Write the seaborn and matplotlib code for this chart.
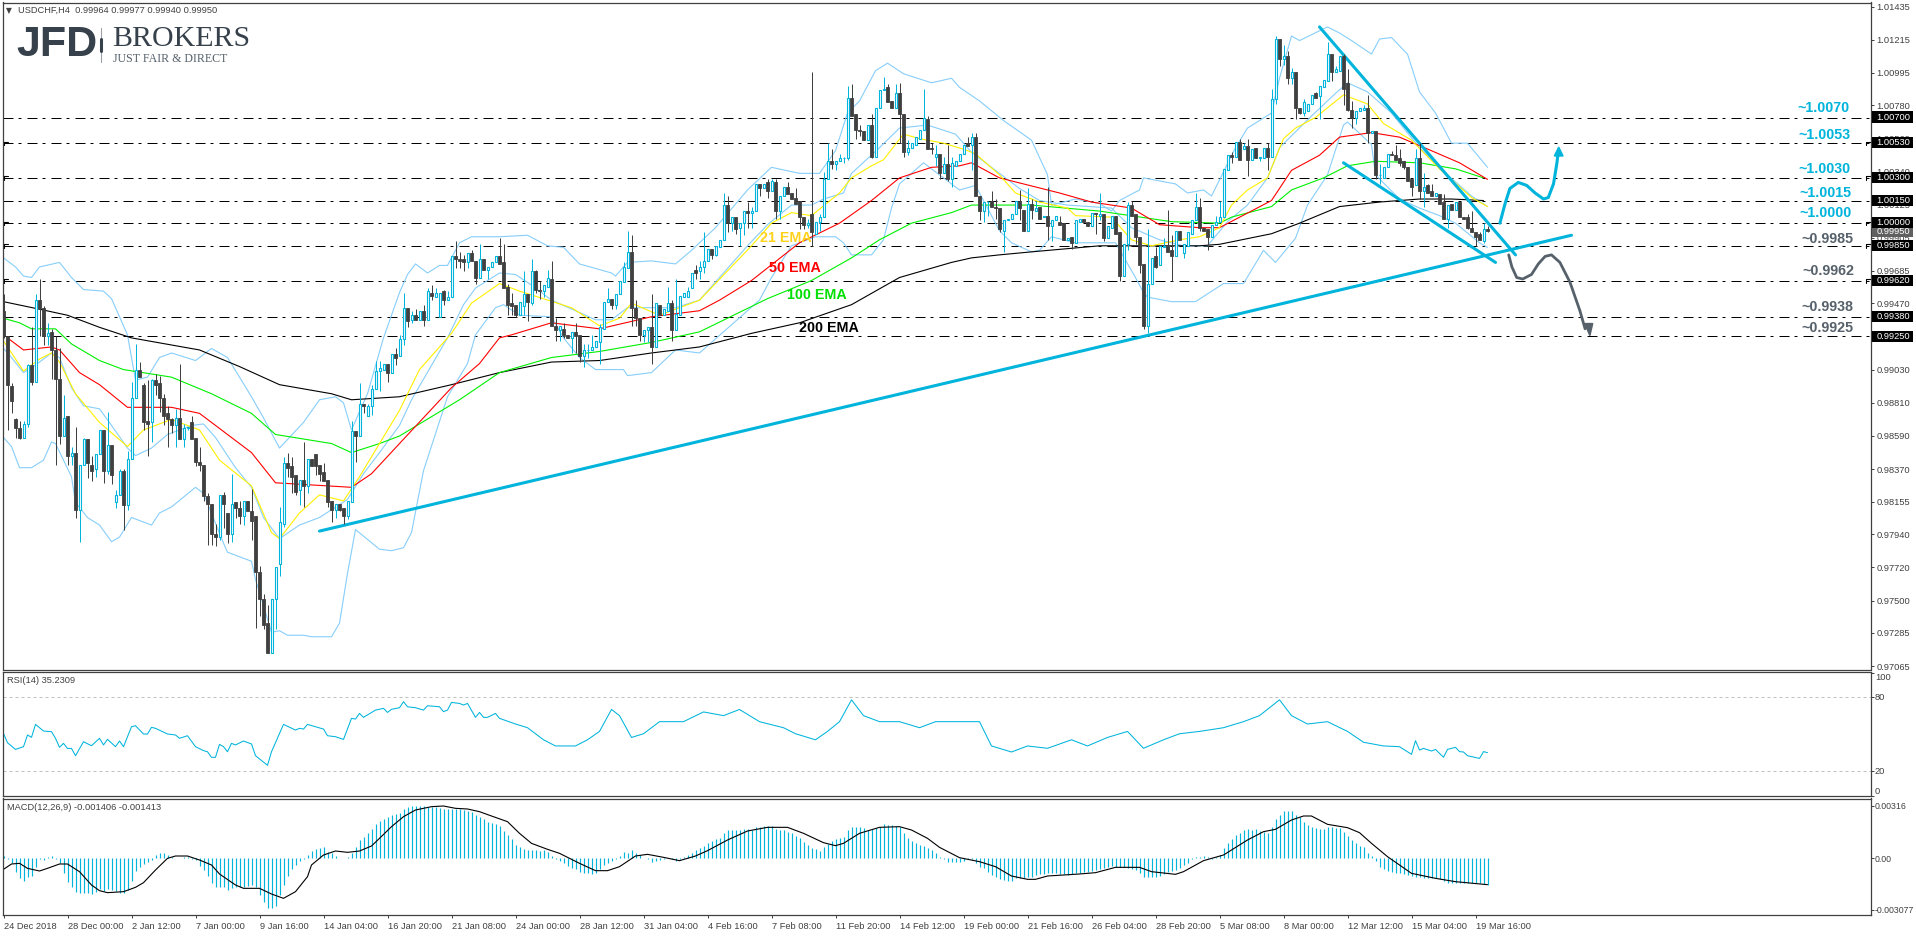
#!/usr/bin/env python3
"""USDCHF H4 chart with EMAs, Bollinger bands, RSI and MACD panels."""

import numpy as np
import matplotlib
matplotlib.use("Agg")
import matplotlib.pyplot as plt
import seaborn as sns
from matplotlib.lines import Line2D
from matplotlib.patches import Rectangle

W, H = 1916, 936

# Candles, in pips (10000 = 1.0000)
opens = [
    9942,9925,9892,9870,9864,9858,9867,9906,9895,9949,
    9944,9925,9928,9916,9897,9859,9872,9846,9848,9810,
    9840,9857,9840,9837,9847,9863,9836,9853,9815,9820,
    9836,9813,9844,9884,9903,9893,9869,9868,9896,9894,
    9884,9874,9870,9866,9871,9857,9864,9868,9858,9842,
    9840,9819,9814,9794,9792,9820,9808,9794,9815,9811,
    9806,9816,9809,9806,9769,9751,9735,9715,9751,9774,
    9801,9841,9839,9833,9823,9830,9826,9844,9847,9840,
    9835,9830,9816,9810,9814,9811,9806,9815,9862,9859,
    9880,9872,9879,9890,9902,9903,9907,9901,9913,9912,
    9923,9944,9936,9939,9936,9942,9936,9954,9951,9938,
    9955,9949,9951,9978,9976,9976,9974,9980,9975,9964,
    9976,9969,9971,9974,9978,9974,9958,9947,9946,9939,
    9945,9953,9947,9968,9956,9955,9958,9963,9932,9929,
    9930,9926,9924,9928,9926,9912,9916,9916,9918,9921,
    9930,9948,9950,9946,9953,9961,9970,9981,9944,9937,
    9926,9929,9931,9918,9946,9939,9942,9947,9929,9939,
    9951,9951,9957,9969,9968,9971,9975,9983,9979,9984,
    9989,10012,10000,10004,9997,10000,10008,10007,10008,10026,
    10023,10027,10021,10027,10008,10018,10024,10020,10017,10015,
    10004,9999,10006,9993,10001,10004,10029,10041,10039,10041,
    10043,10043,10083,10072,10062,10061,10055,10065,10044,10076,
    10088,10090,10081,10076,10086,10072,10047,10050,10052,10056,
    10062,10069,10050,10044,10046,10033,10039,10029,10038,10041,
    10046,10053,10052,10057,10018,10008,10014,10015,10011,10010,
    9995,10002,10003,10006,10015,10009,9995,10013,10008,10011,
    10004,10005,9998,10002,10001,10000,9989,9991,9987,10001,
    10003,10001,9998,10007,10005,10006,9990,9997,10005,9994,
    9965,9986,10012,10006,9991,9973,9932,9960,9978,9972,
    9984,9985,9982,9978,9995,9980,9985,9993,10002,10011,
    9997,9996,9991,9999,10001,10004,10035,10045,10044,10054,
    10049,10051,10042,10050,10043,10043,10050,10044,10082,10122,
    10109,10111,10096,10100,10076,10073,10074,10079,10086,10084,
    10090,10094,10112,10100,10101,10111,10093,10075,10070,10074,
    10075,10076,10060,10061,10032,10030,10037,10046,10045,10043,
    10041,10037,10029,10025,10043,10021,10025,10021,10018,10019,
    10014,10003,10013,10009,10014,10004,10004,9997,9994,9993,
    9988,9996]
closes = [
    9925,9893,9882,9864,9858,9867,9906,9895,9949,9944,
    9925,9927,9916,9897,9859,9871,9846,9848,9810,9840,
    9857,9841,9836,9847,9863,9836,9853,9833,9820,9836,
    9813,9844,9884,9903,9898,9868,9867,9896,9893,9884,
    9872,9870,9866,9871,9857,9864,9865,9857,9842,9840,
    9819,9814,9794,9792,9820,9814,9794,9814,9811,9806,
    9816,9809,9803,9769,9751,9734,9715,9751,9772,9802,
    9841,9838,9832,9822,9830,9826,9844,9839,9839,9834,
    9829,9815,9810,9814,9810,9806,9816,9862,9859,9880,
    9879,9879,9890,9902,9904,9907,9901,9913,9911,9923,
    9944,9935,9939,9936,9942,9936,9955,9952,9954,9954,
    9949,9951,9978,9976,9975,9974,9980,9975,9964,9976,
    9969,9971,9974,9978,9973,9957,9946,9945,9939,9948,
    9953,9948,9968,9956,9955,9959,9964,9932,9929,9932,
    9926,9924,9928,9925,9912,9916,9916,9918,9922,9931,
    9948,9950,9946,9953,9962,9971,9981,9944,9937,9926,
    9929,9931,9918,9947,9939,9943,9947,9929,9940,9952,
    9954,9955,9967,9967,9971,9975,9983,9979,9985,9989,
    10012,10000,10004,9996,10000,10008,10007,10008,10026,10023,
    10026,10021,10028,10008,10018,10024,10019,10016,10013,10004,
    9999,10000,9994,10001,10004,10029,10041,10039,10041,10043,
    10043,10083,10071,10062,10061,10055,10065,10044,10076,10088,
    10089,10080,10076,10086,10072,10047,10050,10053,10057,10062,
    10070,10049,10049,10046,10033,10039,10029,10040,10041,10046,
    10052,10051,10057,10018,10008,10014,10014,10011,10010,9996,
    10002,10003,10006,10015,10010,9995,10013,10009,10010,10003,
    10005,9998,10002,10005,9999,9989,9990,9987,10002,10003,
    10001,9998,10007,10006,10006,9990,9998,10005,9993,9965,
    9986,10012,10005,9991,9972,9932,9960,9977,9971,9985,
    9985,9981,9978,9995,9989,9986,9994,10002,10011,9997,
    9995,9991,9999,10001,10004,10036,10045,10044,10054,10042,
    10051,10042,10049,10043,10044,10050,10044,10082,10122,10109,
    10111,10096,10100,10076,10073,10080,10079,10085,10083,10091,
    10095,10112,10100,10102,10111,10089,10075,10070,10074,10076,
    10076,10060,10061,10032,10032,10037,10046,10045,10042,10040,
    10037,10028,10024,10043,10021,10024,10020,10018,10020,10013,
    10003,10012,10009,10014,10004,10003,9997,9994,9991,9989,
    9996,9995]
highs = [
    9953,9925,9894,9871,9869,9869,9907,9931,9953,9963,
    9945,9934,9930,9925,9917,9886,9872,9852,9865,9840,
    9858,9857,9846,9847,9863,9863,9875,9853,9823,9837,
    9837,9849,9895,9920,9908,9894,9896,9897,9900,9899,
    9887,9879,9871,9877,9907,9867,9865,9872,9858,9852,
    9840,9821,9814,9801,9820,9822,9808,9834,9815,9816,
    9816,9816,9824,9806,9773,9754,9747,9751,9772,9812,
    9845,9848,9845,9833,9830,9855,9844,9844,9847,9840,
    9841,9830,9816,9814,9814,9811,9816,9869,9862,9894,
    9880,9880,9893,9909,9909,9907,9907,9913,9917,9926,
    9954,9944,9942,9943,9942,9946,9957,9959,9957,9954,
    9956,9955,9978,9988,9981,9979,9980,9982,9975,9986,
    9976,9971,9974,9978,9990,9986,9960,9954,9946,9948,
    9968,9953,9976,9969,9962,9959,9969,9975,9937,9932,
    9934,9926,9928,9934,9926,9920,9920,9926,9922,9933,
    9948,9957,9950,9953,9962,9974,9995,9992,9949,9937,
    9929,9931,9953,9947,9946,9943,9958,9949,9963,9952,
    9954,9958,9967,9972,9975,9994,9983,9983,9985,9989,
    10020,10018,10004,10004,10000,10008,10014,10011,10026,10026,
    10026,10029,10029,10029,10018,10024,10027,10020,10023,10015,
    10004,10003,10100,10001,10006,10034,10053,10049,10041,10046,
    10044,10091,10092,10072,10065,10061,10065,10072,10076,10088,
    10097,10092,10081,10092,10093,10072,10055,10053,10057,10062,
    10089,10071,10053,10052,10046,10044,10052,10044,10041,10046,
    10052,10057,10060,10060,10018,10014,10015,10021,10016,10010,
    10002,10003,10006,10015,10022,10009,10023,10016,10015,10011,
    10005,10024,10002,10005,10005,10000,9990,9991,10002,10003,
    10003,10001,10007,10007,10020,10006,9998,10005,10005,9994,
    9986,10014,10015,10006,9991,9973,9996,9977,9984,9985,
    9990,10009,9992,9995,9995,9986,9994,10002,10020,10017,
    9997,9996,9999,10005,10015,10036,10045,10047,10054,10056,
    10053,10056,10049,10050,10044,10050,10053,10089,10124,10122,
    10118,10114,10103,10100,10076,10082,10079,10085,10087,10091,
    10095,10120,10112,10104,10111,10112,10102,10081,10074,10076,
    10078,10085,10061,10061,10039,10037,10046,10048,10052,10049,
    10041,10037,10029,10049,10053,10033,10026,10026,10020,10019,
    10019,10012,10013,10014,10014,10004,10006,10008,9994,9994,
    10000,9998]
lows = [
    9924,9863,9874,9858,9857,9858,9865,9893,9895,9925,
    9919,9919,9897,9840,9854,9859,9840,9840,9805,9789,
    9840,9831,9829,9832,9847,9828,9834,9827,9811,9820,
    9797,9810,9844,9884,9898,9863,9846,9855,9886,9875,
    9866,9852,9861,9852,9857,9852,9863,9857,9839,9836,
    9816,9787,9787,9786,9790,9798,9788,9789,9805,9801,
    9800,9809,9790,9732,9740,9731,9715,9715,9731,9766,
    9799,9832,9821,9820,9813,9812,9821,9839,9833,9829,
    9829,9812,9802,9805,9809,9801,9804,9815,9842,9859,
    9874,9872,9873,9890,9889,9903,9895,9901,9906,9912,
    9919,9931,9934,9936,9936,9932,9936,9949,9951,9938,
    9946,9949,9951,9970,9970,9968,9970,9975,9960,9964,
    9969,9963,9971,9974,9973,9957,9939,9939,9938,9939,
    9939,9935,9946,9954,9950,9951,9958,9932,9922,9922,
    9924,9924,9914,9914,9908,9905,9911,9916,9918,9907,
    9930,9948,9943,9943,9953,9961,9970,9932,9932,9922,
    9921,9921,9907,9918,9939,9939,9942,9922,9929,9939,
    9951,9951,9957,9963,9963,9967,9975,9976,9978,9984,
    9989,9994,9995,9993,9985,9992,9997,9997,10008,10018,
    10023,10017,10021,10003,10003,10018,10019,10016,10013,9996,
    9996,9997,9985,9993,9995,10004,10029,10036,10035,10041,
    10040,10042,10071,10056,10058,10055,10055,10043,10044,10076,
    10088,10080,10076,10076,10053,10044,10045,10050,10052,10056,
    10062,10049,10046,10038,10029,10033,10028,10024,10038,10041,
    10046,10051,10035,10018,10002,10001,10005,10011,10003,9994,
    9981,10002,10003,10006,10002,9995,9995,10003,10008,10003,
    10004,9989,9988,10002,9999,9989,9989,9983,9987,10001,
    10001,9998,9998,9993,10002,9988,9990,9997,9993,9962,
    9965,9982,10005,9986,9967,9930,9927,9960,9970,9972,
    9984,9981,9962,9978,9989,9977,9985,9993,10002,9995,
    9995,9982,9991,9999,10001,10004,10035,10040,10044,10042,
    10049,10031,10042,10043,10041,10043,10035,10044,10079,10104,
    10105,10092,10092,10069,10072,10071,10074,10079,10083,10069,
    10090,10094,10094,10100,10101,10078,10074,10063,10066,10074,
    10075,10053,10060,10029,10026,10030,10037,10045,10042,10038,
    10036,10028,10018,10025,10016,10011,10020,10018,10018,10013,
    10003,9997,10009,10009,10004,10003,9996,9994,9985,9989,
    9987,9994]

# Moving averages: bar index and value in pips at the bends
ema200_x = [0,9,16,24,32,49,59,69,82,87,99,112,124,137,149,162,174,187,199,212,224,237,242,249,257,274,287,299,304,317,324,334,344,354,362,370]
ema200_y = [9948,9943,9939,9931,9924,9916,9905,9893,9887,9883,9885,9893,9901,9908,9909,9914,9918,9927,9934,9946,9964,9974,9977,9979,9981,9985,9985,9985,9986,9993,10000,10011,10014,10016,10016,10015]
ema100_x = [0,4,7,13,17,24,30,42,52,62,68,82,87,94,99,114,124,137,149,162,174,191,202,212,219,227,237,242,257,274,292,304,307,317,322,330,336,343,354,363,370]
ema100_y = [9937,9934,9930,9930,9920,9909,9903,9898,9887,9874,9860,9854,9848,9854,9859,9883,9901,9911,9915,9921,9928,9950,9962,9977,9989,10000,10007,10012,10012,10008,10001,10000,10004,10011,10022,10030,10038,10041,10040,10036,10030]
ema50_x = [1,5,12,14,19,24,31,42,49,62,68,87,92,99,112,119,124,127,137,149,162,174,179,187,199,209,217,224,232,239,242,249,264,272,282,289,299,304,317,322,329,334,342,349,357,364,371]
ema50_y = [9924,9916,9918,9916,9901,9893,9878,9878,9874,9848,9828,9825,9834,9854,9891,9907,9924,9926,9934,9930,9938,9942,9949,9962,9987,10000,10015,10030,10037,10038,10040,10030,10020,10014,10010,9999,9997,9997,10015,10035,10045,10057,10060,10057,10048,10040,10029]
ema21_x = [0,5,9,12,14,18,24,31,35,42,49,54,62,67,69,74,79,85,89,99,104,112,117,124,129,142,149,154,157,164,174,187,192,197,202,209,212,217,220,225,229,235,240,243,249,253,259,266,268,277,282,287,294,299,304,307,311,316,320,323,328,335,341,345,352,359,367,371]
ema21_y = [9922,9902,9910,9914,9908,9887,9868,9852,9863,9870,9863,9843,9826,9795,9791,9808,9820,9816,9832,9876,9903,9927,9947,9960,9955,9944,9932,9937,9947,9939,9949,9985,10000,10007,10005,10020,10030,10038,10042,10059,10056,10053,10049,10046,10032,10020,10014,10010,10005,10004,9989,9985,9989,9991,9997,10012,10022,10030,10056,10063,10070,10085,10079,10066,10055,10036,10017,10011]

# Bollinger bands
bb_up_x = [0,3,5,7,9,14,17,20,25,27,31,33,36,39,42,48,52,56,62,65,69,75,79,83,85,87,91,95,99,101,103,106,109,111,114,117,124,131,136,140,144,152,153,156,162,168,172,178,186,192,199,204,208,211,214,218,221,225,232,237,239,244,250,257,261,262,268,274,277,279,284,285,293,296,300,302,308,311,317,319,322,324,331,334,337,342,344,347,351,354,358,362,366,371]
bb_up_y = [9977,9971,9965,9964,9971,9974,9964,9956,9955,9950,9926,9896,9898,9911,9914,9909,9917,9911,9885,9871,9851,9868,9883,9885,9881,9863,9887,9924,9954,9966,9973,9967,9972,9972,9987,9991,9991,9992,9985,9984,9973,9967,9965,9974,9975,9973,9982,9997,10022,10037,10033,10033,10048,10073,10081,10101,10106,10099,10093,10096,10090,10081,10068,10055,10032,10012,10016,10013,10008,10015,10022,10030,10026,10020,10022,10018,10050,10063,10073,10096,10124,10121,10130,10126,10121,10112,10122,10123,10112,10087,10073,10053,10053,10037]
bb_mid_x = [0,2,5,8,12,14,17,20,24,27,31,33,37,41,47,50,53,58,62,65,69,74,79,86,90,94,99,102,111,115,118,124,128,132,137,143,148,152,156,161,168,174,186,191,197,202,205,210,212,219,224,231,238,242,248,254,259,266,277,282,289,295,301,306,311,316,319,327,333,336,341,347,354,361,367,371]
bb_mid_y = [9917,9911,9901,9906,9914,9911,9891,9879,9877,9866,9851,9846,9851,9860,9866,9867,9858,9838,9825,9805,9791,9800,9805,9817,9834,9848,9866,9883,9924,9946,9957,9967,9966,9959,9949,9942,9936,9936,9944,9944,9944,9949,9985,9999,10012,10012,10016,10020,10033,10050,10063,10065,10059,10047,10035,10023,10015,10012,10010,9997,9989,9985,9985,10001,10012,10030,10050,10071,10086,10093,10087,10073,10050,10032,10018,10011]
bb_lo_x = [0,2,4,7,10,12,13,17,18,21,24,27,29,32,37,39,42,48,50,55,56,62,63,67,69,71,75,77,82,84,86,88,94,97,100,102,105,111,116,118,123,125,129,137,140,144,148,155,156,162,168,174,189,192,197,203,208,210,212,217,220,222,224,230,235,239,243,249,252,257,259,262,268,278,283,285,286,292,298,305,310,315,318,323,326,331,335,336,342,343,349,354,359,363,369,371]
bb_lo_y = [9858,9852,9838,9838,9843,9855,9854,9832,9815,9805,9800,9789,9792,9805,9800,9808,9812,9825,9821,9788,9782,9776,9764,9729,9730,9727,9727,9726,9726,9735,9768,9797,9784,9783,9785,9795,9836,9885,9907,9926,9944,9946,9939,9938,9924,9911,9903,9903,9899,9901,9916,9914,9949,9964,9985,9991,9991,9987,9979,9979,9989,10010,10026,10040,10030,10022,10025,9995,9987,9981,9982,9991,9987,9987,9964,9954,9951,9948,9948,9960,9960,9982,9974,9990,10012,10032,10065,10067,10052,10032,10016,10010,10005,10000,9987,9984]

# Support, channel and scenario lines
support_x, support_y = [79, 392], [9796, 9992]
chan_top_x, chan_top_y = [329, 378], [10130, 9979]
chan_low_x, chan_low_y = [335, 373], [10040, 9974]
up_path_x = [374.1,375.4,376.6,378.7,380.8,382.9,385,386.2,387.5,388.3,388.7]
up_path_y = [10000,10013,10023,10027,10025,10020,10016,10017,10026,10039,10047]
down_path_x = [376.3,377.1,378.3,379.8,382,383.7,385.4,387,389.1,391.6,394.1,395.4]
down_path_y = [9979,9971,9964,9963,9966,9973,9978,9979,9974,9961,9942,9930]

levels = [10070, 10053, 10030, 10015, 10000, 9985, 9962, 9938, 9925]
level_names = ["~1.0070", "~1.0053", "~1.0030", "~1.0015", "~1.0000", "~0.9985", "~0.9962", "~0.9938", "~0.9925"]
level_tags = ["1.00700", "1.00530", "1.00300", "1.00150", "1.00000", "0.99850", "0.99620", "0.99380", "0.99250"]
marked_levels = [10053, 10030, 10000, 9985, 9962]

price_ticks = [1.01435,1.01215,1.00995,1.00780,1.00560,1.00340,1.00125,0.99905,0.99685,0.99470,0.99250,
               0.99030,0.98810,0.98590,0.98370,0.98155,0.97940,0.97720,0.97500,0.97285,0.97065]
date_labels = ["24 Dec 2018","28 Dec 00:00","2 Jan 12:00","7 Jan 00:00","9 Jan 16:00","14 Jan 04:00","16 Jan 20:00",
               "21 Jan 08:00","24 Jan 00:00","28 Jan 12:00","31 Jan 04:00","4 Feb 16:00","7 Feb 08:00","11 Feb 20:00",
               "14 Feb 12:00","19 Feb 00:00","21 Feb 16:00","26 Feb 04:00","28 Feb 20:00","5 Mar 08:00","8 Mar 00:00",
               "12 Mar 12:00","15 Mar 04:00","19 Mar 16:00"]

# RSI panel
rsi_x = [0,1,3,5,6,7,8,10,12,13,14,15,16,17,18,20,22,24,25,26,28,29,30,32,33,35,36,37,38,41,43,44,46,48,50,51,52,53,54,55,56,57,58,60,62,63,66,67,70,73,74,75,76,80,81,83,85,87,88,89,90,93,95,96,97,99,100,101,103,105,106,109,110,111,112,114,115,116,118,119,120,121,123,124,
         128,131,135,138,143,146,149,152,154,157,160,164,170,175,180,184,189,195,198,203,206,209,212,215,219,224,229,233,239,244,247,252,256,261,267,271,276,281,285,290,294,299,305,310,314,319,322,326,331,336,340,345,
         349,352,353,354,355,357,358,360,361,363,364,365,366,369,370,371]
rsi_y = [50.8,43.2,37.8,40,49.5,47.6,58.1,52.7,52.2,46.8,39.5,42.7,38.6,38.6,32.7,44,40.8,46.8,41.4,46,40,44.6,40,56.2,57,50.3,50.3,55.7,54.9,50.3,49.5,46.8,48.9,40,36.8,35.9,31.4,31.4,41.9,40,35.9,42.7,41.4,44.6,42.2,32.7,24.9,35.9,58.1,53.5,54.9,54.3,58.1,54.3,48.9,48.1,45.9,63,62.4,67,63.8,69.7,71.1,67.8,70.3,71.6,76.5,72.4,71.6,69.7,73.2,72.4,68.4,69.7,75.9,75.1,73.8,75.1,63.8,67.8,63.8,63.8,67,63,
         58.4,55.4,45.6,40.6,40.6,45.6,52.4,70.2,65.2,47.5,50.5,60.3,60.3,68.2,65.2,70.2,60.3,55.4,50.5,45.6,52.4,60.3,78,65.2,60.3,60.3,55.4,60.3,60.3,60.3,40.6,35.7,40.6,38.7,45.6,40.6,47.5,52.4,38.7,45.6,50.5,52.4,55.4,60.3,65.2,78,65.2,58.4,60.3,52.4,43.6,40.6,
         40,33.8,44.9,37.3,38.6,36.5,37.8,31.4,37.8,39.5,36,35.7,32.7,30.5,36,35.2]

# MACD panel, in 1e-5 units
macd_hist = [
    14,-6,-26,-80,-120,-136,-110,-104,-50,-6,
    -10,6,14,-6,-30,-90,-140,-170,-200,-206,
    -210,-210,-214,-200,-186,-194,-186,-190,-194,-206,
    -206,-190,-134,-76,-50,-34,-20,-10,20,30,
    30,20,10,4,2,6,6,-6,-10,-46,
    -70,-106,-146,-174,-174,-170,-190,-180,-174,-170,
    -170,-164,-160,-174,-220,-260,-300,-300,-286,-220,
    -160,-106,-66,-40,-14,-2,20,44,54,60,
    66,40,30,14,4,4,6,34,70,110,
    130,150,174,206,226,234,250,260,266,274,
    294,306,314,314,314,314,306,310,306,300,
    294,294,294,294,294,290,286,280,260,246,
    234,220,210,206,194,166,140,114,80,66,
    54,50,50,50,46,50,40,14,-2,-14,
    -30,-46,-56,-66,-80,-86,-90,-94,-90,-66,
    -40,-30,-14,-2,14,40,34,50,30,20,
    4,-6,-20,-14,-10,-2,4,-6,-14,-6,
    10,20,34,50,64,74,94,106,114,120,
    150,170,170,170,170,174,174,170,186,190,
    194,194,194,174,170,170,160,150,136,120,
    100,80,60,54,46,66,86,106,114,120,
    130,170,190,190,186,180,170,174,180,190,
    206,200,200,194,190,154,124,106,94,80,
    74,60,50,34,10,-6,-20,-20,-20,-20,
    -14,-6,-6,-30,-50,-60,-80,-100,-114,-126,
    -130,-134,-134,-120,-120,-120,-114,-110,-100,-94,
    -94,-90,-90,-90,-94,-94,-100,-94,-90,-86,
    -80,-80,-74,-70,-66,-60,-50,-46,-50,-50,
    -54,-60,-66,-70,-90,-110,-114,-114,-110,-106,
    -94,-80,-74,-70,-56,-40,-26,-6,6,10,
    14,10,-2,10,20,60,90,116,140,154,
    170,174,170,174,164,160,154,186,234,260,
    286,286,286,260,246,220,200,190,180,174,
    174,186,186,180,180,160,134,110,90,74,
    66,30,14,-14,-50,-66,-74,-80,-86,-90,
    -94,-100,-106,-110,-114,-120,-120,-120,-120,-126,
    -134,-146,-150,-150,-146,-146,-150,-150,-150,-150,
    -154,-158]
signal_x = [0,2,4,6,9,11,14,16,19,22,24,26,30,33,35,38,41,43,46,49,52,54,58,60,64,67,70,73,76,77,80,83,86,89,92,94,97,100,103,107,110,113,116,119,122,126,129,132,136,139,144,148,151,154,158,161,165,169,173,176,181,186,
            191,196,200,205,208,210,214,219,224,227,231,234,239,244,248,252,256,258,261,269,273,278,284,287,293,295,300,305,311,315,318,322,325,327,331,336,339,342,346,352,358,363,371]
signal_y = [-66,-34,-30,-60,-76,-60,-34,-34,-80,-160,-194,-206,-200,-174,-146,-70,0,14,14,-10,-40,-94,-160,-180,-180,-214,-240,-200,-110,-40,20,44,36,44,74,120,190,250,290,310,314,300,296,280,254,220,150,90,54,30,-30,-74,-74,-50,14,24,6,-14,14,46,110,164,
            186,186,150,94,76,90,150,186,190,170,120,66,4,-20,-50,-106,-126,-126,-106,-94,-86,-54,-54,-80,-96,-80,-14,20,110,160,174,230,254,254,204,184,154,90,10,-90,-120,-140,-158]

CYAN = "#00B4DC"
DARK = "#404040"
STEEL = "#56616B"
SMALL = 6.7
BOLD = dict(fontsize=10.3, fontweight="bold", family="Liberation Sans")


def px_axes(x0, y0, x1, y1):
    return fig.add_axes([x0 / W, 1 - y1 / H, (x1 - x0) / W, (y1 - y0) / H])


def px_text(x, y, s, **kw):
    kw.setdefault("va", "center")
    kw.setdefault("ha", "left")
    return fig.text(x / W, 1 - y / H, s, **kw)


def px_line(xs, ys, **kw):
    fig.add_artist(Line2D([x / W for x in xs], [1 - y / H for y in ys], **kw))


def draw_line(ax, x, y, color, lw=0.8, scale=1e4):
    sns.lineplot(x=np.array(x), y=np.array(y) / scale, ax=ax, color=color, linewidth=lw,
                 estimator=None, sort=False, legend=False)


sns.set_style("white")
plt.rcParams["font.family"] = ["Liberation Sans", "DejaVu Sans"]
plt.rcParams["axes.unicode_minus"] = False

fig = plt.figure(figsize=(W / 100, H / 100), dpi=100, facecolor="white")
ax_main = px_axes(3, 2.5, 1870.5, 669.5)
ax_rsi = px_axes(3, 671.5, 1870.5, 796)
ax_macd = px_axes(3, 798.5, 1870.5, 915)

for ax in (ax_main, ax_rsi, ax_macd):
    ax.set_xlim(-0.125, 466.75)
    ax.yaxis.tick_right()
    ax.set_xticks([])
    ax.grid(False)
    for sp in ax.spines.values():
        sp.set_color(DARK)
        sp.set_linewidth(0.9)
    ax.tick_params(axis="y", which="major", right=True, length=2.2, width=0.7, color=DARK, pad=2.2,
                   labelsize=SMALL, labelcolor=DARK)

# Main panel
ax_main.set_ylim(0.97043, 1.01462)
ax_main.set_yticks(price_ticks)
ax_main.set_yticklabels([f"{v:.5f}" for v in price_ticks])

for lev in levels:
    ax_main.axhline(lev / 1e4, color="black", lw=0.72, ls=(0, (10, 5, 3, 6)), zorder=1)
for lev in marked_levels:
    top = lev / 1e4 + 0.00011
    ax_main.plot([-0.125, 1.0], [top, top], color="black", lw=0.8, zorder=1)
    ax_main.plot([0.0, 0.0], [top, top - 0.00025], color="black", lw=0.8, zorder=1)
    ax_main.plot([465.5, 466.75], [top, top], color="black", lw=0.8, zorder=1)
    ax_main.plot([465.5, 465.5], [top, top - 0.00025], color="black", lw=0.8, zorder=1)

draw_line(ax_main, bb_up_x, bb_up_y, "#87CEFA")
draw_line(ax_main, bb_mid_x, bb_mid_y, "#87CEFA")
draw_line(ax_main, bb_lo_x, bb_lo_y, "#87CEFA")

bars = np.arange(len(closes))
o, c = np.array(opens) / 1e4, np.array(closes) / 1e4
hi, lo = np.array(highs) / 1e4, np.array(lows) / 1e4
up = c >= o
ax_main.vlines(bars[~up], lo[~up], hi[~up], color=DARK, lw=0.72, zorder=3)
ax_main.vlines(bars[up], lo[up], hi[up], color=CYAN, lw=0.72, zorder=3)
ax_main.bar(bars[~up], (o - c)[~up], bottom=c[~up], width=0.55, facecolor=DARK, edgecolor=DARK, lw=0.6, zorder=4)
ax_main.bar(bars[up], (c - o)[up], bottom=o[up], width=0.5, facecolor="white", edgecolor=CYAN, lw=0.8, zorder=4)

draw_line(ax_main, ema200_x, ema200_y, "black")
draw_line(ax_main, ema100_x, ema100_y, "#00F000")
draw_line(ax_main, ema50_x, ema50_y, "#FF0000")
draw_line(ax_main, ema21_x, ema21_y, "#FFF000")

for lx, ly in ((support_x, support_y), (chan_top_x, chan_top_y), (chan_low_x, chan_low_y)):
    draw_line(ax_main, lx, ly, CYAN, lw=2.2)
draw_line(ax_main, up_path_x, up_path_y, CYAN, lw=2.2)
ax_main.fill([387.7, 389.9, 388.8], [1.00445, 1.00445, 1.00504], color=CYAN, zorder=6)
draw_line(ax_main, down_path_x, down_path_y, STEEL, lw=2.0)
ax_main.fill([395.3, 397.3, 396.6], [0.99335, 0.99335, 0.99255], color=STEEL, zorder=6)

# RSI panel
ax_rsi.set_ylim(0, 101)
ax_rsi.set_yticks([100, 80, 20, 0])
ax_rsi.set_yticklabels(["100", "80", "20", "0"])
for lab, va in zip(ax_rsi.get_yticklabels(), ["top", "center", "center", "bottom"]):
    lab.set_va(va)
ax_rsi.tick_params(axis="y", pad=1.0)
for lev in (80, 20):
    ax_rsi.axhline(lev, color="#C0C0C0", lw=0.72, ls=(0, (3, 3)))
draw_line(ax_rsi, rsi_x, rsi_y, CYAN, lw=0.75, scale=1)

# MACD panel
ax_macd.set_ylim(-0.00340, 0.00359)
ax_macd.vlines(bars, 0, np.array(macd_hist) / 1e5, color=CYAN, lw=0.85)
draw_line(ax_macd, signal_x, signal_y, "black", scale=1e5)
ax_macd.set_yticks([0.00316, 0.0, -0.003077])
ax_macd.set_yticklabels(["0.00316", "0.00", "-0.003077"])
ax_macd.tick_params(axis="y", pad=0.6, labelsize=6.3)

ax_macd.set_xticks(np.arange(len(date_labels)) * 16)
ax_macd.set_xticklabels(date_labels, ha="left")
ax_macd.tick_params(axis="x", bottom=True, length=2.2, width=0.7, color=DARK, pad=2.5,
                    labelsize=SMALL, labelcolor=DARK)

# Price tags on the right edge
def tag(y, s, bg):
    fig.add_artist(Rectangle((1872 / W, 1 - (y + 5.6) / H), 41 / W, 11.2 / H, transform=fig.transFigure,
                             facecolor=bg, edgecolor="none", zorder=2))
    px_text(1876.5, y, s, color="white", fontsize=SMALL, zorder=3)


tag(231, "0.99950", "#606060")
for lev, s in zip(levels, level_tags):
    tag((10147.5 - lev) / 0.662, s, "black")

# Level captions
caption_pos = [(1797, 108), (1798, 135), (1798, 169), (1799, 193), (1799, 213),
               (1801, 239), (1802, 271), (1801, 307), (1801, 328)]
for i, (s, (x, y)) in enumerate(zip(level_names, caption_pos)):
    px_text(x, y, s, color=CYAN if i < 5 else STEEL, **BOLD)

# EMA captions
px_text(760, 238, "21 EMA", color="#FFD21E", **BOLD)
px_text(769, 268, "50 EMA", color="#FF0000", **BOLD)
px_text(787, 295, "100 EMA", color="#00E000", **BOLD)
px_text(799, 328, "200 EMA", color="black", **BOLD)

# Header and panel captions
px_text(6, 10.7, "\u25bc", color=DARK, fontsize=5.5, family="DejaVu Sans")
px_text(18, 10.7, "USDCHF,H4  0.99964 0.99977 0.99940 0.99950", color=DARK, fontsize=SMALL)
px_text(7, 680.7, "RSI(14) 35.2309", color=DARK, fontsize=SMALL)
px_text(7, 807.7, "MACD(12,26,9) -0.001406 -0.001413", color=DARK, fontsize=SMALL)

# Logo
px_text(16, 45, "JFD", color="#36414B", fontsize=31, fontweight="bold", family="Liberation Sans")
px_line([101, 101], [28, 62], color="#9AA0A6", lw=0.8)
px_line([101, 101], [39, 51], color="#36414B", lw=2.2)
px_text(112, 39, "BROKERS", color="#36414B", fontsize=21.5, family="Liberation Serif")
px_text(113, 59, "JUST FAIR & DIRECT", color="#56616B", fontsize=8.6, family="Liberation Serif")

fig.savefig("out.png", dpi=100)
plt.close(fig)
